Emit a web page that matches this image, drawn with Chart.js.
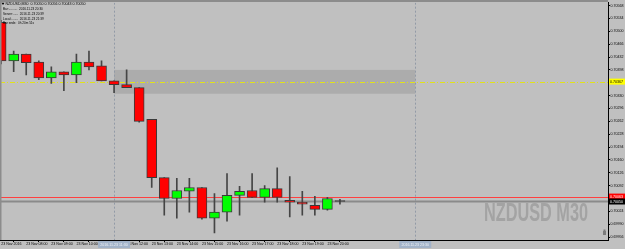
<!DOCTYPE html>
<html><head><meta charset="utf-8">
<script src="https://cdn.jsdelivr.net/npm/chart.js@4.4.1/dist/chart.umd.min.js"></script>
<style>html,body{margin:0;padding:0;background:#c0c0c0;overflow:hidden}</style>
</head><body>
<canvas id="c" width="625" height="249"></canvas>
<script>
// ---- data (30-minute candles, 23 Nov 2016) ----
const times = ['07:00','07:30','08:00','08:30','09:00','09:30','10:00','10:30','11:00','11:30',
  '12:00','12:30','13:00','13:30','14:00','14:30','15:00','15:30','16:00','16:30',
  '17:00','17:30','18:00','18:30','19:00','19:30','20:00','20:30'];
const opens  = [0.70524,0.70422,0.70440,0.70419,0.70377,0.70393,0.70385,0.70419,0.70409,0.70369,
  0.70359,0.70351,0.70267,0.70113,0.70058,0.70077,0.70087,0.70006,0.70022,0.70066,
  0.70079,0.70061,0.70084,0.70053,0.70048,0.70040,0.70029,0.70050];
const highs  = [0.70529,0.70448,0.70440,0.70422,0.70406,0.70393,0.70440,0.70448,0.70422,0.70369,
  0.70398,0.70351,0.70267,0.70113,0.70111,0.70111,0.70087,0.70071,0.70124,0.70090,
  0.70124,0.70092,0.70139,0.70116,0.70077,0.70064,0.70061,0.70056];
const lows   = [0.70414,0.70393,0.70385,0.70372,0.70362,0.70343,0.70364,0.70398,0.70369,0.70338,
  0.70351,0.70260,0.70087,0.70014,0.70006,0.70022,0.70003,0.69967,0.69998,0.70014,
  0.70061,0.70048,0.70048,0.70009,0.70014,0.70014,0.70027,0.70043];
const closes = [0.70422,0.70440,0.70417,0.70377,0.70393,0.70385,0.70419,0.70406,0.70369,0.70359,
  0.70351,0.70262,0.70113,0.70058,0.70079,0.70087,0.70006,0.70022,0.70066,0.70077,
  0.70061,0.70084,0.70061,0.70048,0.70043,0.70029,0.70058,0.70050];
const priceTicks = [0.69956,0.69990,0.70024,0.70092,0.70126,0.70160,0.70194,0.70228,0.70262,
  0.70296,0.70330,0.70398,0.70432,0.70466,0.70500,0.70534,0.70568];
const timeTickIdx = [0,2,4,6,8,10,12,14,16,18,20,22,24,26];
const firstTimeLabel = '23 Nov 2016';
const dayPrefix = '23 Nov ';
const priceMin = 0.699482, priceMax = 0.705758;
const slotMin = -0.09, slotMax = 48.36;
const askPrice = 0.70063, bidPrice = 0.70050, levelPrice = 0.70367;
const rectSlots = [9, 33];
const rectPrices = [0.70398, 0.70335];
const crossBoxes = [[9,'2016.11.23 11:30'],[33,'2016.11.23 23:30']];
const headerMain = 'NZDUSD,M30  0.70050 0.70056 0.70043 0.70050';
const headerLines = ['Bar:..........  2016.11.23 20:30','Server:......  2016.11.23 20:39','Local:........  2016.11.23 21:39','Bar ends:  0h 20m 51s'];
const watermark = 'NZDUSD M30';

const wickData = times.map((t,i)=>({x:i, y:[lows[i], highs[i]]}));
const bodyData = times.map((t,i)=>({x:i, y:[opens[i], closes[i]]}));
const bodyColors = opens.map((o,i)=> closes[i]>o ? '#00ff00' : (closes[i]<o ? '#ff0000' : '#3c3c3c'));

const F = 'Liberation Sans';
const mt = {
  id:'mt',
  beforeDraw(chart){
    const c=chart.ctx; c.save(); c.fillStyle='#c0c0c0'; c.fillRect(0,0,chart.width,chart.height); c.restore();
  },
  beforeDatasetsDraw(chart){
    const c=chart.ctx, a=chart.chartArea, xs=chart.scales.x, ys=chart.scales.y;
    c.save();
    c.beginPath(); c.rect(a.left,a.top,a.right-a.left,a.bottom-a.top); c.clip();
    // watermark
    c.font='bold 25px "'+F+'"';
    const w=c.measureText(watermark).width;
    c.save(); c.translate(588,220.5); c.scale(104/w,1);
    c.fillStyle='#a3a3a3'; c.textAlign='right'; c.textBaseline='alphabetic';
    c.fillText(watermark,0,0); c.restore();
    // rectangle
    const rx1=xs.getPixelForValue(rectSlots[0]), rx2=xs.getPixelForValue(rectSlots[1]);
    const ry1=ys.getPixelForValue(rectPrices[0]), ry2=ys.getPixelForValue(rectPrices[1]);
    c.fillStyle='#acacac'; c.fillRect(rx1,ry1,rx2-rx1,ry2-ry1);
    // vertical dotted lines
    c.strokeStyle='#929aa6'; c.lineWidth=1; c.setLineDash([2,2]);
    rectSlots.forEach(s=>{const px=Math.round(xs.getPixelForValue(s))+0.5;
      c.beginPath(); c.moveTo(px,a.top); c.lineTo(px,a.bottom); c.stroke();});
    // level line (yellow dash-dot)
    let py=Math.round(ys.getPixelForValue(levelPrice))+0.5;
    c.strokeStyle='#e2e21a'; c.setLineDash([5,2,1,2]);
    c.beginPath(); c.moveTo(a.left,py); c.lineTo(a.right,py); c.stroke();
    c.setLineDash([]);
    // bid line
    py=ys.getPixelForValue(bidPrice);
    c.strokeStyle='#8a8a8a'; c.lineWidth=2;
    c.beginPath(); c.moveTo(a.left,py); c.lineTo(a.right,py); c.stroke();
    // ask line
    py=Math.round(ys.getPixelForValue(askPrice))+0.5;
    c.strokeStyle='#ff4040'; c.lineWidth=1;
    c.beginPath(); c.moveTo(a.left,py); c.lineTo(a.right,py); c.stroke();
    c.restore();
  },
  afterDraw(chart){
    const c=chart.ctx, a=chart.chartArea, xs=chart.scales.x, ys=chart.scales.y;
    c.save();
    // frame accents
    c.fillStyle='#8c8c8c'; c.fillRect(0,0,a.right,2); c.fillRect(0,0,1.5,a.bottom);
    // small icon bottom-right
    c.fillStyle='#7a7a7a'; c.fillRect(603,231,3,4); c.fillRect(603.5,229.5,2,1.5);
    // price labels
    c.font='3.6px "'+F+'"'; c.textBaseline='middle'; c.textAlign='left';
    const lab=(p,bg,fg)=>{const y=ys.getPixelForValue(p); c.fillStyle=bg; c.fillRect(a.right+1,y-3,16,6);
      c.fillStyle=fg; c.fillText(p.toFixed(5),a.right+2,y+0.3);};
    lab(levelPrice,'#ffff00','#000');
    lab(askPrice,'#ff0000','#fff');
    lab(bidPrice,'#000000','#fff');
    // crosshair time boxes
    crossBoxes.forEach(([s,t])=>{const x=xs.getPixelForValue(s);
      c.fillStyle='#a2b3c9'; c.fillRect(x-16,a.bottom+1,32,7);
      c.fillStyle='#eef2f7'; c.textAlign='center'; c.fillText(t,x,a.bottom+4.6);});
    // header
    c.fillStyle='#000';
    c.beginPath(); c.moveTo(1.5,2.8); c.lineTo(4.5,2.8); c.lineTo(3,5); c.closePath(); c.fill();
    c.textAlign='left'; c.textBaseline='middle';
    c.font='3.6px "'+F+'"'; c.fillText(headerMain,5.5,4);
    c.font='3.1px "'+F+'"';
    headerLines.forEach((t,i)=>c.fillText(t,3,9.6+i*4.6));
    c.restore();
  }
};

new Chart(document.getElementById('c'),{
  type:'bar',
  data:{datasets:[
    {data:wickData, backgroundColor:'#454545', borderWidth:0, barThickness:1, grouped:false, order:2},
    {data:bodyData, backgroundColor:bodyColors, borderColor:'#3a3a3a', borderWidth:1, borderSkipped:false,
     barThickness:10, minBarLength:1, grouped:false, order:1}
  ]},
  options:{
    responsive:false, animation:false, devicePixelRatio:1,
    layout:{padding:0},
    plugins:{legend:{display:false}, tooltip:{enabled:false}},
    scales:{
      x:{type:'linear', min:slotMin, max:slotMax, offset:false,
        afterBuildTicks:s=>{s.ticks=timeTickIdx.map(v=>({value:v}));},
        afterFit:s=>{s.height=9;},
        grid:{drawOnChartArea:false, drawTicks:true, tickLength:2, color:'#000'},
        border:{display:true, color:'#000', width:1},
        ticks:{autoSkip:false, maxRotation:0, minRotation:0, align:'start', padding:0,
          color:'#000', font:{size:3.6, family:F},
          callback:v=> v===0 ? firstTimeLabel : dayPrefix+times[v]}
      },
      y:{position:'right', min:priceMin, max:priceMax,
        afterBuildTicks:s=>{s.ticks=priceTicks.map(v=>({value:v}));},
        afterFit:s=>{s.width=17;},
        grid:{drawOnChartArea:false, drawTicks:true, tickLength:2, color:'#000'},
        border:{display:true, color:'#000', width:1},
        ticks:{padding:0.5, color:'#000', font:{size:3.6, family:F}, callback:v=>v.toFixed(5)}
      }
    }
  },
  plugins:[mt]
});
</script>
</body></html>
